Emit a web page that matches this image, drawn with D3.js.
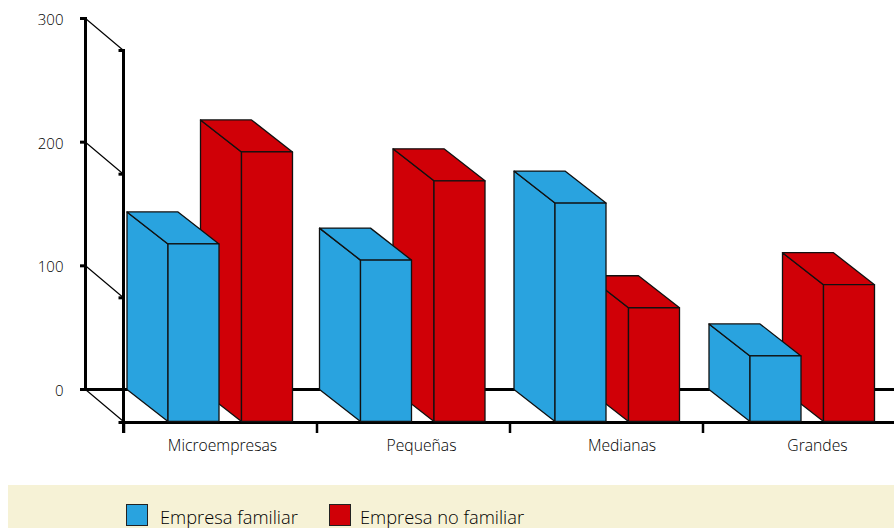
<!DOCTYPE html>
<html><head><meta charset="utf-8">
<script src="https://cdn.jsdelivr.net/npm/d3@7/dist/d3.min.js"></script>
<style>html,body{margin:0;padding:0;background:#fff}svg{display:block}text{font-family:"Open Sans",sans-serif;font-weight:300;fill:#000}</style>
</head><body><svg id="c" width="894" height="528"></svg>
<script>
const categories = ["Microempresas","Pequeñas","Medianas","Grandes"];
const familiar = [143.6,130.5,176.6,53];
const noFamiliar = [218,194.6,92,110.6];
const yTicks = [0,100,200,300];
const legendNames = ["Empresa familiar","Empresa no familiar"];
const colors = {"Empresa familiar":"#29a3df","Empresa no familiar":"#d00007"};

const svg = d3.select("#c");
const depthX = 41, depthY = 32, barW = 51, redOffset = 73.5;
const y = d3.scaleLinear().domain([0,300]).range([421.5,50.5]);
const xBar = d3.scaleOrdinal().domain(categories).range([168,360.5,555,750]);
const xTick = d3.scaleLinear().domain([0,3]).range([124,703]);
const xLabel = d3.scaleOrdinal().domain(categories).range([222.5,421.5,622,817.5]);

svg.append("rect").attr("x",8).attr("y",485).attr("width",886).attr("height",43).attr("fill","#f6f2d6");

const g = svg.append("g");
g.append("line").attr("x1",85.5).attr("x2",85.5).attr("y1",y(300)-depthY-1).attr("y2",y(0)-depthY+1).attr("stroke","#000").attr("stroke-width",3);
g.append("line").attr("x1",123.5).attr("x2",123.5).attr("y1",y(300)-1).attr("y2",433).attr("stroke","#000").attr("stroke-width",3);
g.selectAll(".d").data(yTicks).join("line").attr("x1",85.5).attr("x2",85.5+depthX-3)
  .attr("y1",d=>y(d)-depthY).attr("y2",d=>y(d)).attr("stroke","#000").attr("stroke-width",1.2);
g.selectAll(".bt").data(yTicks).join("line").attr("x1",80).attr("x2",87)
  .attr("y1",d=>y(d)-depthY).attr("y2",d=>y(d)-depthY).attr("stroke","#000").attr("stroke-width",3);
g.selectAll(".ft").data(yTicks.slice(1)).join("line").attr("x1",118.5).attr("x2",125)
  .attr("y1",d=>y(d)).attr("y2",d=>y(d)).attr("stroke","#000").attr("stroke-width",3);
g.append("line").attr("x1",80).attr("x2",894).attr("y1",y(0)-depthY).attr("y2",y(0)-depthY).attr("stroke","#000").attr("stroke-width",3);
g.append("line").attr("x1",118.5).attr("x2",894).attr("y1",y(0)+1).attr("y2",y(0)+1).attr("stroke","#000").attr("stroke-width",3);
g.selectAll(".xt").data(d3.range(4)).join("line").attr("x1",d=>xTick(d)).attr("x2",d=>xTick(d)).attr("y1",422).attr("y2",433).attr("stroke","#000").attr("stroke-width",2.5);

function bar(sel,x0,val,color){
  const x1=x0+barW, t=y(val), b=y(0);
  const bg=sel.append("g").attr("fill",color).attr("stroke","#111").attr("stroke-width",1.3).attr("stroke-linejoin","round");
  const path=pts=>"M"+pts.map(p=>p.join(",")).join("L")+"Z";
  bg.append("path").attr("d",path([[x0-depthX,t-depthY],[x0,t],[x0,b],[x0-depthX,b-depthY]]));
  bg.append("path").attr("d",path([[x0-depthX,t-depthY],[x1-depthX,t-depthY],[x1,t],[x0,t]]));
  bg.append("path").attr("d",path([[x0,t],[x1,t],[x1,b],[x0,b]]));
}
categories.forEach((c,i)=>{
  bar(svg,xBar(c)+redOffset,noFamiliar[i],colors["Empresa no familiar"]);
  bar(svg,xBar(c),familiar[i],colors["Empresa familiar"]);
});

svg.selectAll(".yl").data(yTicks).join("text").attr("x",63.5).attr("text-anchor","end")
  .attr("y",d=>y(d)-depthY+6.5).attr("font-size",15).text(d=>d);
svg.selectAll(".xl").data(categories).join("text").attr("x",d=>xLabel(d)).attr("y",450.5)
  .attr("text-anchor","middle").attr("font-size",15.7).text(d=>d);

const legendX = d3.scaleOrdinal().domain(legendNames).range([126,329]);
const legendLabelX = d3.scaleOrdinal().domain(legendNames).range([160,360]);
legendNames.forEach(n=>{
  svg.append("rect").attr("x",legendX(n)+.5).attr("y",504.5).attr("width",21).attr("height",21).attr("fill",colors[n]).attr("stroke","#222");
  svg.append("text").attr("x",legendLabelX(n)).attr("y",523.5).attr("font-size",18.3).text(n);
});
</script></body></html>
